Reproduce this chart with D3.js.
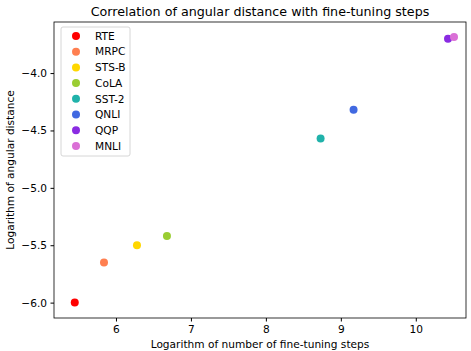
<!DOCTYPE html>
<html>
<head>
<meta charset="utf-8">
<script src="https://cdn.jsdelivr.net/npm/d3@7"></script>
<style>
  body { margin: 0; background: #fff; }
  svg { font-family: "DejaVu Sans", sans-serif; display: block; }
</style>
</head>
<body>
<div id="chart"></div>
<script>
// data
const tasks = ["RTE", "MRPC", "STS-B", "CoLA", "SST-2", "QNLI", "QQP", "MNLI"];
const logSteps = [5.45, 5.84, 6.28, 6.68, 8.73, 9.17, 10.43, 10.51];
const logDistance = [-6.0, -5.65, -5.5, -5.42, -4.57, -4.32, -3.70, -3.685];
const colors = ["#ff0000", "#ff7f50", "#ffd700", "#9acd32", "#20b2aa", "#4169e1", "#8a2be2", "#da70d6"];
const xTicks = [6, 7, 8, 9, 10];
const yTicks = [-6.0, -5.5, -5.0, -4.5, -4.0];

// config
const width = 471;
const height = 351;
const margin = { top: 22, right: 5, bottom: 33, left: 54 };
const tickFont = 10.6;

const points = tasks.map((t, i) => ({ task: t, x: logSteps[i], y: logDistance[i], color: colors[i] }));

// scales
const xScale = d3.scaleLinear()
  .domain([5.173, 10.67])
  .range([margin.left, width - margin.right]);

const yScale = d3.scaleLinear()
  .domain([-6.134, -3.555])
  .range([height - margin.bottom, margin.top]);

const svg = d3.select("#chart")
  .append("svg")
  .attr("width", width)
  .attr("height", height);

// points
svg.selectAll("circle.point")
  .data(points)
  .join("circle")
  .attr("class", "point")
  .attr("cx", d => xScale(d.x))
  .attr("cy", d => yScale(d.y))
  .attr("r", 4)
  .attr("fill", d => d.color);

// axes
const xAxis = d3.axisBottom(xScale)
  .tickValues(xTicks)
  .tickFormat(d3.format("d"))
  .tickSizeOuter(0)
  .tickSize(3.5)
  .tickPadding(3.5);

const yAxis = d3.axisLeft(yScale)
  .tickValues(yTicks)
  .tickFormat(d => d3.format(".1f")(d).replace("-", "\u2212"))
  .tickSizeOuter(0)
  .tickSize(3.5)
  .tickPadding(3.5);

svg.append("g")
  .attr("transform", "translate(0," + (height - margin.bottom) + ")")
  .call(xAxis)
  .call(g => g.select(".domain").remove())
  .call(g => g.selectAll("text").attr("font-size", tickFont).attr("fill", "#000").attr("font-family", "DejaVu Sans"));

svg.append("g")
  .attr("transform", "translate(" + margin.left + ",0)")
  .call(yAxis)
  .call(g => g.select(".domain").remove())
  .call(g => g.selectAll("text").attr("font-size", tickFont).attr("fill", "#000").attr("font-family", "DejaVu Sans"));

// frame
svg.append("rect")
  .attr("x", margin.left)
  .attr("y", margin.top)
  .attr("width", width - margin.left - margin.right)
  .attr("height", height - margin.top - margin.bottom)
  .attr("fill", "none")
  .attr("stroke", "#000")
  .attr("stroke-width", 0.8);

// labels
svg.append("text")
  .attr("x", (margin.left + width - margin.right) / 2)
  .attr("y", 16)
  .attr("text-anchor", "middle")
  .attr("font-size", 12.7)
  .text("Correlation of angular distance with fine-tuning steps");

svg.append("text")
  .attr("x", (margin.left + width - margin.right) / 2)
  .attr("y", height - 3)
  .attr("text-anchor", "middle")
  .attr("font-size", tickFont)
  .text("Logarithm of number of fine-tuning steps");

svg.append("text")
  .attr("transform", "translate(14," + ((margin.top + height - margin.bottom) / 2) + ") rotate(-90)")
  .attr("text-anchor", "middle")
  .attr("font-size", tickFont)
  .text("Logarithm of angular distance");

// legend
const legend = svg.append("g").attr("transform", "translate(61,27)");

legend.append("rect")
  .attr("width", 69)
  .attr("height", 129)
  .attr("rx", 2)
  .attr("fill", "#fff")
  .attr("fill-opacity", 0.8)
  .attr("stroke", "#ccc")
  .attr("stroke-width", 0.8);

const items = legend.selectAll("g.item")
  .data(points)
  .join("g")
  .attr("class", "item")
  .attr("transform", (d, i) => "translate(0," + (9 + i * 15.7) + ")");

items.append("circle")
  .attr("cx", 15)
  .attr("cy", 0)
  .attr("r", 4)
  .attr("fill", d => d.color);

items.append("text")
  .attr("x", 34)
  .attr("y", 0)
  .attr("dy", "0.35em")
  .attr("font-size", tickFont)
  .text(d => d.task);
</script>
</body>
</html>
